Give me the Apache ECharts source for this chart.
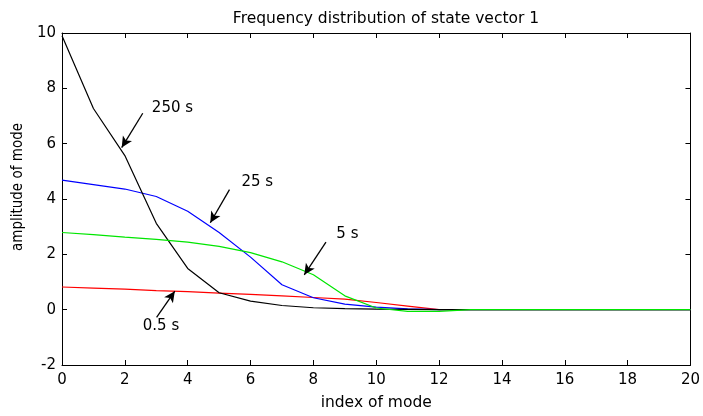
<!DOCTYPE html>
<html><head><meta charset="utf-8">
<script src="https://cdn.jsdelivr.net/npm/echarts@6/dist/echarts.min.js"></script>
<style>html,body{margin:0;padding:0;background:#fff}#c{width:703px;height:416px}</style>
</head><body><div id="c"></div>
<script>
const modeIndex = [0,1,2,3,4,5,6,7,8,9,10,11,12,13,14,15,16,17,18,19,20];
const s250 = [9.9,7.27,5.57,3.12,1.49,0.61,0.31,0.15,0.07,0.04,0.02,0.01,0,0,0,0,0,0,0,0,0];
const s25  = [4.68,4.52,4.36,4.09,3.56,2.79,1.9,0.9,0.43,0.2,0.09,0.03,0,0,0,0,0,0,0,0,0];
const s5   = [2.79,2.71,2.62,2.54,2.44,2.29,2.06,1.73,1.26,0.5,0.06,-0.06,-0.06,0,0,0,0,0,0,0,0];
const s05  = [0.82,0.78,0.74,0.69,0.65,0.6,0.55,0.5,0.44,0.38,0.26,0.13,0,0,0,0,0,0,0,0,0];
const seriesNames = ['250 s','25 s','5 s','0.5 s'];
const seriesColors = ['#000000','#0000ff','#00e600','#ff0000'];
// annotation arrows: [startX,startY,endX,endY]; labels: [x,y]
const arrows = [[2.57,7.10,1.90,5.86],[5.33,4.34,4.72,3.14],[8.40,2.44,7.71,1.26],[3.01,-0.28,3.59,0.67]];
const labelPos = [[2.86,7.27],[5.71,4.62],[8.73,2.74],[2.57,-0.61]];

const chart = echarts.init(document.getElementById('c'));
const font = 'DejaVu Sans, Arial, sans-serif';
const fontN = '"Liberation Sans Narrow", "DejaVu Sans Condensed", Arial, sans-serif';
const vals = [s250,s25,s5,s05];
const series = [];
const order = [3,1,0,2];
order.forEach(i=>{
  series.push({
    name: seriesNames[i], type:'line', data: modeIndex.map((x,k)=>[x,vals[i][k]]),
    showSymbol:false, symbol:'none', lineStyle:{color:seriesColors[i],width:1.2}, itemStyle:{color:seriesColors[i]},
    animation:false, z: 3
  });
});
series.push({
  type:'line', data:[], animation:false, silent:true,
  markLine:{silent:true, symbol:['none','arrow'], symbolSize:[8,11], animation:false,
    lineStyle:{color:'#000',width:1.3,type:'solid'}, label:{show:false},
    data: arrows.map(a=>[{coord:[a[0],a[1]]},{coord:[a[2],a[3]]}])},
  markPoint:{silent:true, symbol:'circle', symbolSize:0, animation:false,
    label:{show:true, position:'right', distance:0, color:'#000', fontSize:15, fontFamily:font,
      formatter: p=>p.name},
    data: labelPos.map((p,i)=>({name:seriesNames[i], coord:[p[0],p[1]]}))}
});
const axisLine = {show:true, onZero:false, lineStyle:{color:'#000',width:1}};
const tick = {show:true, inside:true, length:5, lineStyle:{color:'#000'}};
chart.setOption({
  backgroundColor:'#fff',
  animation:false,
  title:{text:'Frequency distribution of state vector 1', left:381, top:6, textAlign:'center',
    textStyle:{fontSize:15.5, fontWeight:'normal', color:'#000', fontFamily:font}},
  grid:{left:62, right:10, top:33, bottom:44, containLabel:false},
  xAxis:[
    {type:'value', min:0, max:20, interval:2, position:'bottom', axisLine:axisLine, axisTick:tick,
      axisLabel:{color:'#000', fontSize:15, fontFamily:font, margin:8},
      splitLine:{show:false},
      name:'index of mode', nameLocation:'middle', nameGap:30,
      nameTextStyle:{color:'#000', fontSize:15.5, fontFamily:font}},
    {type:'value', min:0, max:20, interval:2, position:'top', axisLine:axisLine, axisTick:tick,
      axisLabel:{show:false}, splitLine:{show:false}}
  ],
  yAxis:[
    {type:'value', min:-2, max:10, interval:2, position:'left', axisLine:axisLine, axisTick:tick,
      axisLabel:{color:'#000', fontSize:15, fontFamily:font, margin:6},
      splitLine:{show:false},
      name:'amplitude of mode', nameLocation:'middle', nameGap:36, nameRotate:90,
      nameTextStyle:{color:'#000', fontSize:15, fontFamily:fontN, padding:[0,0,0,24]}},
    {type:'value', min:-2, max:10, interval:2, position:'right', axisLine:axisLine, axisTick:tick,
      axisLabel:{show:false}, splitLine:{show:false}}
  ],
  series: series
});
</script></body></html>
